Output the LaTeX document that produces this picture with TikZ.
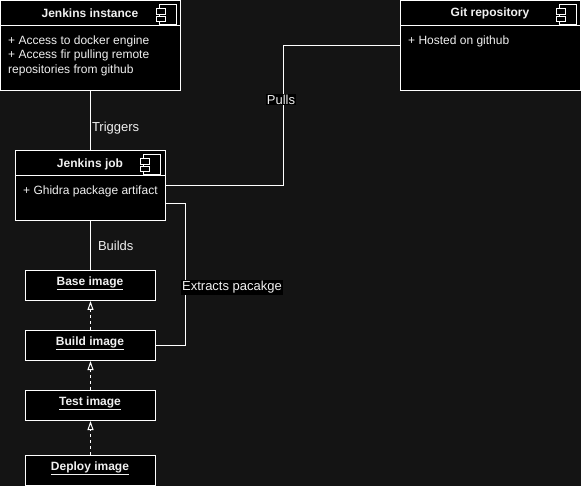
\documentclass[tikz,border=0pt]{standalone}
\usepackage{fontspec}
\setmainfont{Liberation Sans}
\usepackage{xcolor}
\usetikzlibrary{arrows.meta}

\definecolor{pagebg}{HTML}{141414}
\definecolor{inktext}{HTML}{F0F0F0}

\tikzset{
    box/.style={draw=white, fill=black, line width=1pt, inner sep=0pt},
    image/.style={box, minimum width=130pt, minimum height=30pt},
    title/.style={text=inktext, font=\fontsize{12}{14.5}\selectfont\bfseries},
    body/.style={text=inktext, font=\fontsize{12}{14.5}\selectfont, align=left, anchor=north west, inner sep=0pt},
    tag/.style={text=inktext, font=\fontsize{13}{15}\selectfont, inner sep=1pt},
    wire/.style={draw=white, line width=1pt},
    realize/.style={wire, dashed, -{Triangle[open, fill=pagebg, length=9pt, width=6pt]}}
}

% component icon, (#1,#2) is the top left of its body
\newcommand{\compicon}[2]{
    \draw[white, line width=0.8pt] (#1,#2) rectangle ++(17,20);
    \draw[white, line width=0.8pt, fill=black] (#1-3,#2+4) rectangle ++(9,5.5);
    \draw[white, line width=0.8pt, fill=black] (#1-3,#2+11.5) rectangle ++(9,5.5);
}

\begin{document}
\begin{tikzpicture}[x=1pt, y=-1pt]

\useasboundingbox (0,0) rectangle (581,486);
\fill[pagebg] (0,0) rectangle (581,486);

% Jenkins instance
\node[box, minimum width=180pt, minimum height=90pt] (instance) at (90.5,45.5) {};
\draw[wire] (instance.west |- 0,26) -- (instance.east |- 0,26);
\node[title] (instanceTitle) at (90,13) {Jenkins instance};
\node[body] (instanceBody) at (8,35.5) {+ Access to docker engine\\+ Access fir pulling remote\\repositories from github};
\compicon{159.5}{4.5}

% Git repository
\node[box, minimum width=180pt, minimum height=90pt] (git) at (490.5,45.5) {};
\draw[wire] (git.west |- 0,26) -- (git.east |- 0,26);
\node[title] (gitTitle) at (490,13) {Git repository};
\node[body] (gitBody) at (408,35.5) {+ Hosted on github};
\compicon{559.5}{4.5}

% Jenkins job
\node[box, minimum width=150pt, minimum height=70pt] (job) at (90.5,185.5) {};
\draw[wire] (job.west |- 0,176) -- (job.east |- 0,176);
\node[title] (jobTitle) at (90,164.5) {Jenkins job};
\node[body] (jobBody) at (23,185.5) {+ Ghidra package artifact};
\compicon{143.5}{154.5}

% Images
\node[image] (base) at (90.5,285.5) {};
\node[image] (build) at (90.5,345.5) {};
\node[image] (test) at (90.5,405.5) {};
\node[image] (deploy) at (90.5,470.5) {};
\node[title] (baseTitle) at (90,283) {\underline{Base image}};
\node[title] (buildTitle) at (90,343) {\underline{Build image}};
\node[title] (testTitle) at (90,403) {\underline{Test image}};
\node[title] (deployTitle) at (90,468) {\underline{Deploy image}};

% Connectors
\draw[wire] (instance.south) -- (job.north) node[tag, pos=0.58, anchor=west, yshift=-2.5pt] (triggers) {Triggers};
\draw[wire] (job.south) -- (base.north) node[tag, pos=0.5, anchor=west, xshift=6pt] (builds) {Builds};
\draw[wire] (job.east) -- (283,185.5) -- (283,45.5) -- (git.west);
\draw[wire] ([yshift=-18pt]job.east) -- (185.5,203.5) -- (185.5,345.5) -- (build.east);
\node[tag, fill=black] (pulls) at (281,99.5) {Pulls};
\node[tag, fill=black] (extracts) at (232,287.5) {Extracts pacakge};

\draw[realize] (build.north) -- (base.south);
\draw[realize] (test.north) -- (build.south);
\draw[realize] (deploy.north) -- (test.south);

\end{tikzpicture}
\end{document}
